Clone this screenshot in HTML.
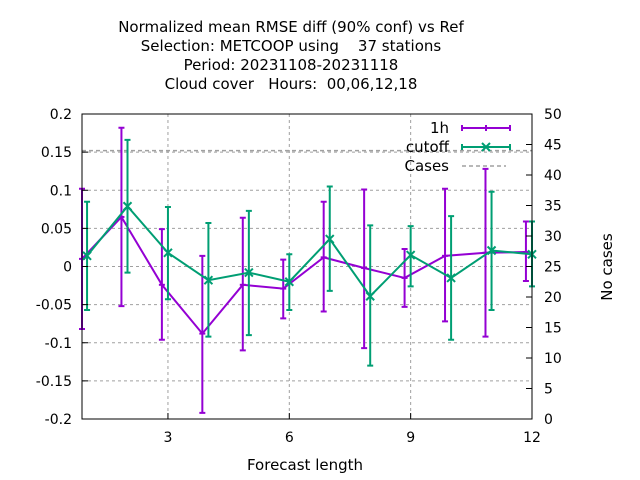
<!DOCTYPE html>
<html><head><meta charset="utf-8"><style>
body{margin:0;background:#fff;}
svg{display:block;font-family:"DejaVu Sans","Liberation Sans",sans-serif;}
</style></head><body>
<svg id="chart" width="640" height="480" viewBox="0 0 640 480">
<g font-size="15" text-anchor="middle" fill="#000">
<text x="291" y="32">Normalized mean RMSE diff (90% conf) vs Ref</text>
<text x="291" y="51" xml:space="preserve">Selection: METCOOP using    37 stations</text>
<text x="291" y="70">Period: 20231108-20231118</text>
<text x="291" y="89" xml:space="preserve">Cloud cover   Hours:  00,06,12,18</text>
</g>
<g id="grid"></g>
<g id="marks"></g>
<g id="axes"></g>
<text x="305" y="470" font-size="15" text-anchor="middle">Forecast length</text>
<text transform="translate(612,267) rotate(-90)" font-size="15" text-anchor="middle">No cases</text>
<g id="legend"></g>
</svg>
<script>
const xValues=[1,2,3,4,5,6,7,8,9,10,11,12];
const h1Mean=[0.010,0.065,-0.024,-0.088,-0.024,-0.029,0.012,-0.002,-0.015,0.014,0.018,0.019];
const h1Low=[-0.082,-0.052,-0.096,-0.192,-0.110,-0.068,-0.059,-0.107,-0.053,-0.072,-0.092,-0.019];
const h1High=[0.102,0.182,0.049,0.014,0.064,0.009,0.085,0.101,0.023,0.102,0.128,0.059];
const cutMean=[0.014,0.079,0.018,-0.018,-0.008,-0.020,0.036,-0.039,0.015,-0.015,0.021,0.016];
const cutLow=[-0.057,-0.008,-0.043,-0.092,-0.090,-0.057,-0.032,-0.130,-0.026,-0.096,-0.057,-0.026];
const cutHigh=[0.085,0.166,0.078,0.057,0.073,0.016,0.105,0.054,0.053,0.066,0.098,0.059];
const cases=[44,44,44,44,44,44,44,44,44,44,44,44];
const yTicks=[-0.2,-0.15,-0.1,-0.05,0,0.05,0.1,0.15,0.2];
const yTickLabels=["-0.2","-0.15","-0.1","-0.05","0","0.05","0.1","0.15","0.2"];
const xTicks=[3,6,9,12];
const y2Ticks=[0,5,10,15,20,25,30,35,40,45,50];

const L=82,R=532,T=114,B=419;
const xMin=0.875,xMax=12;
const X=v=>L+(v-xMin)/(xMax-xMin)*(R-L);
const Y=v=>B-(v+0.2)/0.4*(B-T);
const Y2=v=>B-v/50*(B-T);
const NS="http://www.w3.org/2000/svg";
function mk(tag,attrs,parent){const e=document.createElementNS(NS,tag);for(const k in attrs)e.setAttribute(k,attrs[k]);parent.appendChild(e);return e;}
const grid=document.getElementById('grid'),marks=document.getElementById('marks'),axes=document.getElementById('axes'),legend=document.getElementById('legend');

yTicks.forEach((v,i)=>{
  if(i>0&&i<yTicks.length-1){const g=mk('line',{x1:L,x2:R,y1:Y(v),y2:Y(v),stroke:'#a0a0a0','stroke-width':1,'stroke-dasharray':'3,3'},grid);
  
  }
  const tk=mk('line',{x1:L,x2:L+6,y1:Y(v),y2:Y(v),stroke:'#000'},axes);
  
  
  const t=mk('text',{x:L-10,y:Y(v)+5,'font-size':14,'text-anchor':'end'},axes);t.textContent=yTickLabels[i];
  
  
});
xTicks.forEach(v=>{
  if(v<xMax){const g=mk('line',{x1:X(v),x2:X(v),y1:T,y2:B,stroke:'#a0a0a0','stroke-width':1,'stroke-dasharray':'3,3'},grid);
  
  }
  const tk=mk('line',{x1:X(v),x2:X(v),y1:B,y2:B-6,stroke:'#000'},axes);
  
  
  const t=mk('text',{x:X(v),y:B+23,'font-size':14,'text-anchor':'middle'},axes);t.textContent=String(v);
  
  
});
y2Ticks.forEach(v=>{
  const tk=mk('line',{x1:R-6,x2:R,y1:Y2(v),y2:Y2(v),stroke:'#000'},axes);
  
  
  const t=mk('text',{x:R+12,y:Y2(v)+5,'font-size':14,'text-anchor':'start'},axes);t.textContent=String(v);
  
  
});
const fr=mk('rect',{x:L,y:T,width:R-L,height:B-T,fill:'none',stroke:'#000','stroke-width':1},axes);



const cl=mk('polyline',{points:xValues.map((x,i)=>`${i==0?L:X(x)},${Y2(cases[i])}`).join(' '),fill:'none',stroke:'#a0a0a0','stroke-width':1.5,'stroke-dasharray':'4,3'},marks);



function series(mean,low,high,off,color,name,cross){
  const g=mk('g',{},marks);
  
  
  const xs=xValues.map(x=>Math.max(L,X(x+off)));
  const pl=mk('polyline',{points:xs.map((x,i)=>`${x},${Y(mean[i])}`).join(' '),fill:'none',stroke:color,'stroke-width':2},g);
  
  
  xs.forEach((x,i)=>{
    const eb=mk('path',{d:`M${x},${Y(low[i])}V${Y(high[i])}M${x-3},${Y(low[i])}H${x+3}M${x-3},${Y(high[i])}H${x+3}`,stroke:color,'stroke-width':2,fill:'none'},g);
    
    
    const y=Y(mean[i]);
    const m=mk('path',{d:cross?`M${x-4},${y-4}L${x+4},${y+4}M${x-4},${y+4}L${x+4},${y-4}`:`M${x-3},${y}H${x+3}`,stroke:color,'stroke-width':2},g);
    
    
  });
}
series(h1Mean,h1Low,h1High,-0.15,'#9400d3','h1',false);
series(cutMean,cutLow,cutHigh,0,'#009e73','cutoff',true);

const items=[['1h','#9400d3',128,'none'],['cutoff','#009e73',147,'x'],['Cases','#a0a0a0',166,'dash']];
items.forEach(it=>{
  const g=mk('g',{},legend);
  
  
  const t=mk('text',{x:449,y:it[2]+5,'font-size':15,'text-anchor':'end'},g);t.textContent=it[0];
  if(it[3]=='dash'){mk('line',{x1:462,x2:506,y1:it[2],y2:it[2],stroke:it[1],'stroke-width':1.5,'stroke-dasharray':'4,3'},g);}
  else{
    mk('path',{d:`M462,${it[2]}H510M462,${it[2]-3}V${it[2]+3}M510,${it[2]-3}V${it[2]+3}`,stroke:it[1],'stroke-width':2,fill:'none'},g);
    if(it[3]=='x')mk('path',{d:`M482,${it[2]-4}L490,${it[2]+4}M482,${it[2]+4}L490,${it[2]-4}`,stroke:it[1],'stroke-width':2},g);
    else mk('path',{d:`M486,${it[2]-3}V${it[2]+3}`,stroke:it[1],'stroke-width':2},g);
  }
});
</script>
</body></html>
